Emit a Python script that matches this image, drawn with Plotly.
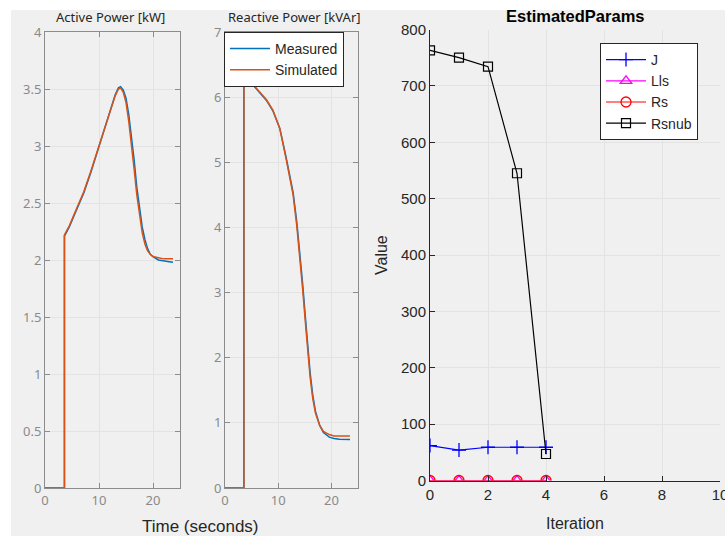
import plotly.graph_objects as go

# ---------------- data ----------------
t_act = [0, 3.6, 3.6, 4.5, 5.3, 6.2, 7.2, 8.5, 10.0, 11.0, 12.1, 13.0, 13.6, 14.0, 14.5,
         15.0, 15.5, 16.0, 16.5, 17.0, 17.5, 18.0, 18.5, 19.0, 19.5, 20.0, 21.0, 22.0, 23.0, 23.7]
act_meas = [0, 0, 2.21, 2.29, 2.38, 2.48, 2.59, 2.77, 3.0, 3.16, 3.32, 3.45, 3.51, 3.52, 3.49,
            3.42, 3.28, 3.10, 2.88, 2.64, 2.44, 2.29, 2.18, 2.10, 2.05, 2.03, 2.0, 1.99, 1.985, 1.98]
act_sim = [0, 0, 2.22, 2.30, 2.39, 2.49, 2.60, 2.78, 3.0, 3.16, 3.32, 3.44, 3.50, 3.51, 3.47,
           3.38, 3.22, 3.03, 2.80, 2.57, 2.38, 2.24, 2.14, 2.08, 2.05, 2.03, 2.02, 2.01, 2.01, 2.01]

t_rea = [0, 3.55, 3.55, 4.0, 5.0, 6.0, 7.0, 7.8, 9.0, 10.3, 11.5, 12.8, 13.5, 14.0, 14.6,
         15.1, 15.6, 16.0, 16.5, 17.0, 17.8, 18.5, 19.6, 20.5, 21.5, 22.5, 23.5]
rea_meas = [0, 0, 6.43, 6.29, 6.21, 6.12, 6.02, 5.95, 5.79, 5.52, 5.07, 4.54, 4.08, 3.68, 3.13,
            2.63, 2.12, 1.77, 1.42, 1.18, 0.96, 0.85, 0.78, 0.76, 0.75, 0.75, 0.745]
rea_sim = [0, 0, 6.45, 6.30, 6.22, 6.13, 6.03, 5.96, 5.80, 5.52, 5.05, 4.50, 4.02, 3.60, 3.05,
           2.55, 2.05, 1.70, 1.37, 1.15, 0.96, 0.87, 0.82, 0.80, 0.80, 0.80, 0.80]

iterations = [0, 1, 2, 3, 4]
J = [62, 54, 59, 59, 59]
Lls = [0, 0, 0, 0, 0]
Rs = [0, 0, 0, 0, 0]
Rsnub = [763, 750, 734, 545, 47]

# ---------------- layout helpers ----------------
W, H = 725, 536
def px_x(a, b):
    return [a / W, b / W]
def px_y(top, bottom):
    return [(H - bottom) / H, (H - top) / H]

BLUE = "#0072BD"
ORANGE = "#D95319"
GRID = "#e3e3e3"
LFONT = "Noto Sans"
RFONT = "Liberation Sans"

fig = go.Figure()

# Active power
fig.add_trace(go.Scatter(x=t_act, y=act_meas, mode="lines", line=dict(color=BLUE, width=1.5),
                         name="Measured", xaxis="x", yaxis="y", showlegend=False))
fig.add_trace(go.Scatter(x=t_act, y=act_sim, mode="lines", line=dict(color=ORANGE, width=1.5),
                         name="Simulated", xaxis="x", yaxis="y", showlegend=False))
# Reactive power
fig.add_trace(go.Scatter(x=t_rea, y=rea_meas, mode="lines", line=dict(color=BLUE, width=1.5),
                         name="Measured", xaxis="x2", yaxis="y2", legend="legend"))
fig.add_trace(go.Scatter(x=t_rea, y=rea_sim, mode="lines", line=dict(color=ORANGE, width=1.5),
                         name="Simulated", xaxis="x2", yaxis="y2", legend="legend"))

# Estimated params
fig.add_trace(go.Scatter(x=iterations, y=J, mode="lines+markers", name="J",
                         line=dict(color="#0000FF", width=1.2),
                         marker=dict(symbol="cross-thin", size=10, line=dict(color="#0000FF", width=1.3)),
                         xaxis="x3", yaxis="y3", legend="legend2"))
fig.add_trace(go.Scatter(x=iterations, y=Lls, mode="lines+markers", name="Lls",
                         line=dict(color="#FF00FF", width=1.2),
                         marker=dict(symbol="triangle-up-open", size=10, color="#FF00FF", line=dict(width=1.3)),
                         xaxis="x3", yaxis="y3", legend="legend2"))
fig.add_trace(go.Scatter(x=iterations, y=Rs, mode="lines+markers", name="Rs",
                         line=dict(color="#FF0000", width=1.2),
                         marker=dict(symbol="circle-open", size=10, color="#FF0000", line=dict(width=1.3)),
                         xaxis="x3", yaxis="y3", legend="legend2"))
fig.add_trace(go.Scatter(x=iterations, y=Rsnub, mode="lines+markers", name="Rsnub",
                         line=dict(color="#000000", width=1.2),
                         marker=dict(symbol="square-open", size=9, color="#000000", line=dict(width=1.2)),
                         xaxis="x3", yaxis="y3", legend="legend2"))

left_axis_common = dict(showgrid=True, gridcolor=GRID, gridwidth=1, zeroline=False, automargin=False,
                        showline=True, linecolor="#8c8c8c", linewidth=1, mirror="ticks",
                        ticks="inside", ticklen=5, tickcolor="#8c8c8c",
                        tickfont=dict(family=LFONT, size=13, color="#8a8a8a"))
right_axis_common = dict(showgrid=True, gridcolor=GRID, zeroline=False, automargin=False,
                         showline=True, linecolor="#262626", ticks="inside", ticklen=5,
                         tickcolor="#262626", ticklabeloverflow="allow",
                         tickfont=dict(family=RFONT, size=15, color="#262626"))

def ann(text, x, y, size, font, color="#262626", angle=0):
    return dict(text=text, x=x / W, y=(H - y) / H, xref="paper", yref="paper",
                xanchor="center", yanchor="middle", textangle=angle, showarrow=False,
                font=dict(family=font, size=size, color=color))

fig.update_layout(
    width=W, height=H,
    margin=dict(l=0, r=0, t=0, b=0),
    paper_bgcolor="white",
    plot_bgcolor="white",
    xaxis=dict(domain=px_x(45, 180), range=[0, 25], tickvals=[0, 10, 20], anchor="y", **left_axis_common),
    yaxis=dict(domain=px_y(32, 488), range=[0, 4], dtick=0.5, anchor="x", **left_axis_common),
    xaxis2=dict(domain=px_x(225, 358), range=[0, 25], tickvals=[0, 10, 20], anchor="y2", **left_axis_common),
    yaxis2=dict(domain=px_y(32, 488), range=[0, 7], dtick=1, anchor="x2", **left_axis_common),
    xaxis3=dict(domain=px_x(430, 720), range=[0, 10], tickvals=[0, 2, 4, 6, 8, 10], anchor="y3",
                **right_axis_common),
    yaxis3=dict(domain=px_y(29.5, 480.5), range=[0, 800], dtick=100, anchor="x3", **right_axis_common),
    legend=dict(x=224 / W, y=(H - 32) / H, xanchor="left", yanchor="top",
                bgcolor="white", bordercolor="#262626", borderwidth=1,
                font=dict(family=RFONT, size=14, color="#262626"),
                tracegroupgap=0, itemwidth=40),
    legend2=dict(x=600 / W, y=(H - 43) / H, xanchor="left", yanchor="top",
                 bgcolor="white", bordercolor="#262626", borderwidth=1,
                 font=dict(family=RFONT, size=14, color="#262626"),
                 tracegroupgap=0, itemwidth=40),
    shapes=[dict(type="rect", xref="paper", yref="paper", x0=11 / W, x1=1, y0=0, y1=(H - 10) / H,
                 fillcolor="#f0f0f0", line=dict(width=0), layer="below")],
    annotations=[
        ann("Active Power [kW]", 110, 17, 13, LFONT),
        ann("Reactive Power [kVAr]", 294, 17, 13, LFONT),
        ann("<b>EstimatedParams</b>", 575, 16, 16.5, RFONT, color="#000000"),
        ann("Time (seconds)", 200, 526, 17, RFONT),
        ann("Iteration", 575, 523, 16, RFONT),
        ann("Value", 381, 255, 16, RFONT, angle=-90),
    ],
)

fig.write_html("out.html")
